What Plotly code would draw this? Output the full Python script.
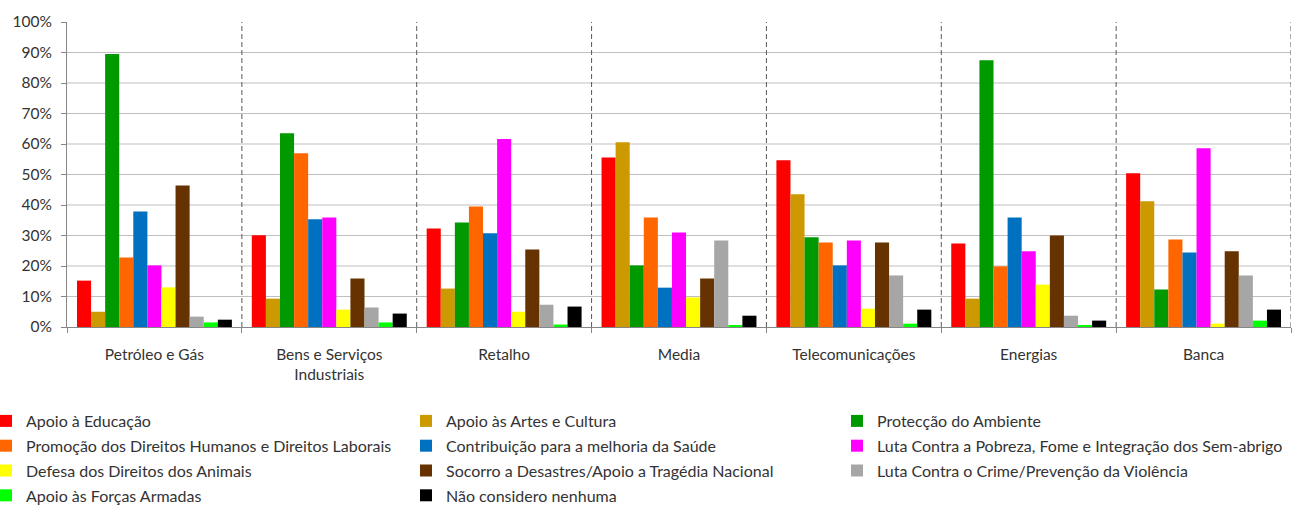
import plotly.graph_objects as go

categories = ["Petróleo e Gás", "Bens e Serviços<br>Industriais", "Retalho", "Media",
              "Telecomunicações", "Energias", "Banca"]

series_names = [
    "Apoio à Educação",
    "Apoio às Artes e Cultura",
    "Protecção do Ambiente",
    "Promoção dos Direitos Humanos e Direitos Laborais",
    "Contribuição para a melhoria da Saúde",
    "Luta Contra a Pobreza, Fome e Integração dos Sem-abrigo",
    "Defesa dos Direitos dos Animais",
    "Socorro a Desastres/Apoio a Tragédia Nacional",
    "Luta Contra o Crime/Prevenção da Violência",
    "Apoio às Forças Armadas",
    "Não considero nenhuma",
]

# values in % per category (order of categories above)
educacao   = [15.2, 30.1, 32.3, 55.6, 54.7, 27.4, 50.4]
artes      = [5.0, 9.3, 12.6, 60.6, 43.5, 9.3, 41.2]
ambiente   = [89.5, 63.5, 34.3, 20.2, 29.4, 87.5, 12.3]
direitos   = [22.8, 57.0, 39.5, 35.9, 27.7, 19.9, 28.7]
saude      = [37.9, 35.3, 30.7, 12.9, 20.2, 35.9, 24.4]
pobreza    = [20.2, 35.9, 61.6, 31.0, 28.4, 24.8, 58.6]
animais    = [13.0, 5.7, 5.0, 9.7, 6.0, 13.9, 1.1]
desastres  = [46.4, 15.9, 25.4, 15.9, 27.7, 30.0, 24.8]
crime      = [3.4, 6.4, 7.3, 28.4, 16.9, 3.7, 16.9]
forcas     = [1.5, 1.5, 0.8, 0.4, 1.1, 0.4, 2.1]
nenhuma    = [2.4, 4.4, 6.7, 3.7, 5.7, 2.1, 5.7]

series_values = [educacao, artes, ambiente, direitos, saude, pobreza,
                 animais, desastres, crime, forcas, nenhuma]

colors = ["#FF0000", "#CC9900", "#009900", "#FF6600", "#0070C0", "#FF00FF",
          "#FFFF00", "#663300", "#A6A6A6", "#00FF00", "#000000"]

y_ticks = [0, 10, 20, 30, 40, 50, 60, 70, 80, 90, 100]
y_ticktext = [f"{v}%" for v in y_ticks]

FONT = "Lato"
TXT = "#333333"

# legend column of each series (3 columns, filled row by row)
legend_ids = ["legend", "legend2", "legend3"]

fig = go.Figure()
for i, (name, vals, col) in enumerate(zip(series_names, series_values, colors)):
    fig.add_trace(go.Bar(
        x=categories, y=vals, name=name,
        marker=dict(color=col, line=dict(width=0)),
        legend=legend_ids[i % 3], legendgroup=f"g{i}",
        hoverinfo="skip",
    ))

# horizontal gridlines (no line at 100%)
for v in y_ticks[1:-1]:
    fig.add_shape(type="line", xref="paper", yref="y", x0=0, x1=1, y0=v, y1=v,
                  line=dict(color="#BFBFBF", width=1), layer="below")

# dashed separators between categories
for i in range(len(categories)):
    fig.add_shape(type="line", xref="x", yref="y", x0=i + 0.5, x1=i + 0.5, y0=0, y1=100,
                  line=dict(color="#595959", width=1, dash="5px,3px"), layer="above")

PL, PW, PB, PH = 67, 1224, 327, 305


def legend_box(left_px, top_px):
    return dict(
        orientation="v", xref="paper", yref="paper",
        x=(left_px - PL) / PW, xanchor="left",
        y=(PB - top_px) / PH, yanchor="top",
        font=dict(family=FONT, size=16, color=TXT),
        traceorder="grouped", tracegroupgap=1,
        bgcolor="rgba(0,0,0,0)",
    )


fig.update_layout(
    width=1297, height=505,
    margin=dict(l=PL, r=6, t=22, b=178, autoexpand=False),
    paper_bgcolor="white", plot_bgcolor="white",
    barmode="group", bargap=0.114, bargroupgap=0,
    font=dict(family=FONT, size=15.5, color=TXT),
    xaxis=dict(
        type="category", range=[-0.5, 6.5],
        showgrid=False, showline=True, linecolor="#868686", linewidth=1,
        ticks="outside", ticklen=5, tickcolor="#868686", tickson="boundaries",
        ticklabelstandoff=13,
        tickfont=dict(family=FONT, size=15.5, color=TXT),
        fixedrange=True,
    ),
    yaxis=dict(
        range=[0, 100], tickvals=y_ticks, ticktext=y_ticktext,
        showgrid=False, showline=True, linecolor="#868686", linewidth=1,
        ticks="outside", ticklen=5, tickcolor="#868686",
        ticklabelstandoff=6,
        tickfont=dict(family=FONT, size=15.5, color=TXT),
        zeroline=False, fixedrange=True,
    ),
    legend=legend_box(-14, 404),
    legend2=legend_box(406, 404),
    legend3=legend_box(837, 404),
    showlegend=True,
)

fig.write_html("out.html")
